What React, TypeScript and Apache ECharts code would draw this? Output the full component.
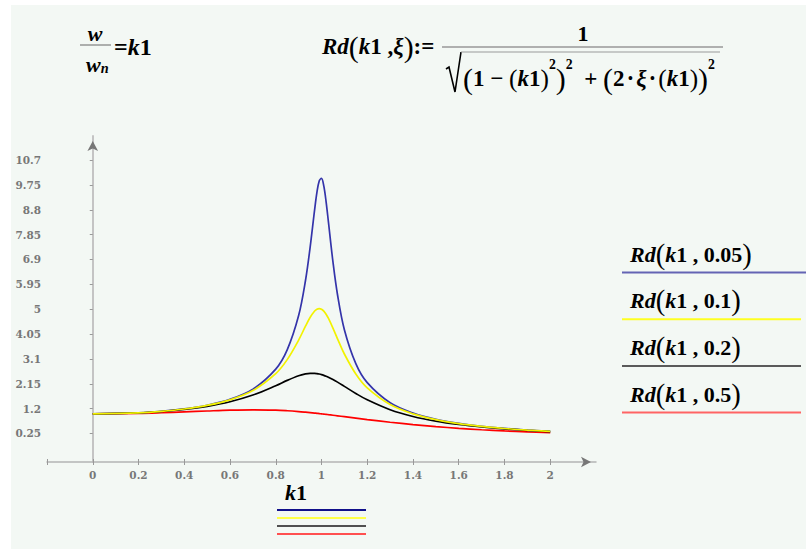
import React, { useEffect, useRef } from 'react';
import * as echarts from 'echarts';

// frequency ratio k1 = w / wn
const k1 = [0, 0.2, 0.3, 0.4, 0.5, 0.6, 0.7, 0.8, 0.85, 0.9, 0.93, 0.95, 0.97, 0.98, 0.99, 1.0, 1.01, 1.02, 1.03, 1.05, 1.07, 1.1, 1.15, 1.2, 1.3, 1.4, 1.5, 1.6, 1.7, 1.8, 1.9, 2.0];

// Rd(k1, ξ) for each damping ratio
const rd005 = [1, 1.041, 1.098, 1.189, 1.33, 1.556, 1.943, 2.712, 3.446, 4.757, 6.097, 7.346, 8.804, 9.461, 9.903, 10.0, 9.711, 9.115, 8.357, 6.815, 5.552, 4.218, 2.921, 2.193, 1.424, 1.031, 0.794, 0.638, 0.527, 0.445, 0.382, 0.333];
const rd01 = [1, 1.041, 1.097, 1.185, 1.322, 1.536, 1.891, 2.538, 3.073, 3.821, 4.35, 4.683, 4.931, 5.001, 5.025, 5.0, 4.926, 4.809, 4.655, 4.279, 3.869, 3.288, 2.525, 1.995, 1.356, 1.0, 0.778, 0.628, 0.521, 0.441, 0.379, 0.33];
const rd02 = [1, 1.038, 1.09, 1.17, 1.288, 1.463, 1.719, 2.076, 2.279, 2.457, 2.527, 2.549, 2.548, 2.538, 2.522, 2.5, 2.472, 2.439, 2.401, 2.313, 2.213, 2.051, 1.78, 1.536, 1.157, 0.9, 0.721, 0.593, 0.498, 0.425, 0.368, 0.322];
const rd05 = [1, 1.02, 1.044, 1.075, 1.109, 1.14, 1.155, 1.14, 1.118, 1.087, 1.064, 1.047, 1.029, 1.02, 1.01, 1.0, 0.99, 0.98, 0.969, 0.948, 0.926, 0.893, 0.837, 0.782, 0.68, 0.589, 0.512, 0.448, 0.393, 0.348, 0.31, 0.277];

const zetaLabels = ['0.05', '0.1', '0.2', '0.5'];

// axis tick values
const xTicks = [-0.2, 0, 0.2, 0.4, 0.6, 0.8, 1, 1.2, 1.4, 1.6, 1.8, 2];
const xLabels = [0, 0.2, 0.4, 0.6, 0.8, 1, 1.2, 1.4, 1.6, 1.8, 2];
const yLabels = [0.25, 1.2, 2.15, 3.1, 4.05, 5, 5.95, 6.9, 7.85, 8.8, 9.75, 10.7];

const SERIF = "'Liberation Serif', serif";
const TICK_FONT = "'DejaVu Serif', serif";
const curveColors = ['#3434aa', '#f2f200', '#000000', '#ff0000'];
const rightLegendColors = ['#6464b4', '#ffff20', '#5a5a5a', '#ff6464'];
const bottomLegendColors = ['#10108a', '#ffff48', '#505050', '#ff5050'];

const fmt = (v: number) => String(Math.round(v * 100) / 100);

const mathRich = (size: number) => ({
  v: { fontFamily: SERIF, fontStyle: 'italic', fontWeight: 'bold', fontSize: size, fill: '#000' },
  n: { fontFamily: SERIF, fontWeight: 'bold', fontSize: size, fill: '#000' },
  p: { fontFamily: SERIF, fontWeight: 'normal', fontSize: size * 1.3, fill: '#000', lineHeight: size * 1.8 },
  p2: { fontFamily: SERIF, fontWeight: 'normal', fontSize: size * 1.1, fill: '#000' },
  d: { fontFamily: SERIF, fontWeight: 'bold', fontSize: size * 0.6, fill: '#000' },
  s1: { fontFamily: SERIF, fontWeight: 'bold', fontSize: size * 0.6, fill: '#000', verticalAlign: 'top', lineHeight: size * 1.2 },
  s2: { fontFamily: SERIF, fontWeight: 'bold', fontSize: size * 0.6, fill: '#000', verticalAlign: 'top', lineHeight: size * 0.6 },
  sub: { fontFamily: SERIF, fontStyle: 'italic', fontWeight: 'bold', fontSize: size * 0.65, fill: '#000', verticalAlign: 'bottom', lineHeight: size * 0.5 },
  eq: { fontFamily: SERIF, fontWeight: 'bold', fontSize: size, fill: '#000' },
});

export default function App() {
  const ref = useRef<HTMLDivElement>(null);

  useEffect(() => {
    if (!ref.current) return;
    const chart = echarts.init(ref.current, undefined, { renderer: 'svg' });

    const seriesValues = [rd005, rd01, rd02, rd05];
    const series = seriesValues.map((vals, i) => ({
      type: 'line',
      name: 'Rd(k1, ' + zetaLabels[i] + ')',
      data: k1.map((k, j) => [k, vals[j]]),
      showSymbol: false,
      smooth: 0.35,
      lineStyle: { color: curveColors[i], width: 1.7 },
      z: [3, 5, 4, 2][i],
      silent: true,
    }));

    const labelStyle = { fontFamily: TICK_FONT, fontWeight: 'bold', fontSize: 10.5, color: '#777' };
    const gridHeight = 326;

    const rightLegend: any[] = [];
    zetaLabels.forEach((z, i) => {
      const cy = 254 + i * 46.7;
      rightLegend.push({
        type: 'text',
        x: 630,
        y: cy,
        style: {
          text: '{v|Rd}{p|(}{v|k}{n|1 ,}{n| ' + z + '}{p|)}',
          align: 'left',
          verticalAlign: 'middle',
          rich: mathRich(22),
        },
      });
      rightLegend.push({
        type: 'line',
        shape: { x1: 622, y1: cy + 18.5, x2: i === 0 ? 806 : 801, y2: cy + 18.5 },
        style: { stroke: rightLegendColors[i], lineWidth: 2 },
      });
    });

    const bottomLegend: any[] = [
      {
        type: 'text',
        x: 296,
        y: 492,
        style: { text: '{v|k}{n|1}', align: 'center', verticalAlign: 'middle', rich: mathRich(22) },
      },
    ];
    bottomLegendColors.forEach((c, i) => {
      bottomLegend.push({
        type: 'line',
        shape: { x1: 277, y1: 510 + i * 8, x2: 366, y2: 510 + i * 8 },
        style: { stroke: c, lineWidth: 2 },
      });
    });

    const formulas: any[] = [
      // w / wn = k1
      { type: 'text', x: 95, y: 33, style: { text: '{v|w}', align: 'center', verticalAlign: 'middle', rich: mathRich(22) } },
      { type: 'line', shape: { x1: 80, y1: 45, x2: 111, y2: 45 }, style: { stroke: '#666', lineWidth: 1 } },
      { type: 'text', x: 86, y: 64, style: { text: '{v|w}{sub|n}', align: 'left', verticalAlign: 'middle', rich: mathRich(22) } },
      { type: 'text', x: 114, y: 47, style: { text: '{eq|=}{v|k}{n|1}', align: 'left', verticalAlign: 'middle', rich: mathRich(24) } },
      // Rd(k1, ξ) := 1 / sqrt(...)
      { type: 'text', x: 322, y: 46, style: { text: '{v|Rd}{p|(}{v|k}{n|1 ,}{v|ξ}{p|)}{n|:=}', align: 'left', verticalAlign: 'middle', rich: mathRich(23) } },
      { type: 'line', shape: { x1: 442, y1: 47, x2: 723, y2: 47 }, style: { stroke: '#999', lineWidth: 1.5 } },
      { type: 'text', x: 583, y: 33, style: { text: '{n|1}', align: 'center', verticalAlign: 'middle', rich: mathRich(22) } },
      { type: 'polyline', shape: { points: [[446, 69], [449, 67], [455, 92], [461, 52]] }, style: { stroke: '#000', lineWidth: 1.6, fill: null } },
      { type: 'line', shape: { x1: 461, y1: 52, x2: 720, y2: 52 }, style: { stroke: '#999', lineWidth: 1.2 } },
      {
        type: 'text',
        x: 463,
        y: 78,
        style: {
          text: '{p|(}{n|1 − }{p2|(}{v|k}{n|1}{p2|)}{s1|2}{p|)}{s2|2}{n|  + }{p|(}{n|2}{d| • }{v|ξ}{d| • }{p2|(}{v|k}{n|1}{p2|)}{p|)}{s2|2}',
          align: 'left',
          verticalAlign: 'middle',
          rich: mathRich(23),
        },
      },
    ];

    chart.setOption({
      animation: false,
      backgroundColor: 'transparent',
      grid: { left: 47, top: 136, width: 549, height: gridHeight, containLabel: false },
      xAxis: [
        {
          type: 'value',
          min: -0.2,
          max: 2.2,
          position: 'bottom',
          axisLine: { onZero: false, lineStyle: { color: '#b4b4b4', width: 1.5 } },
          axisTick: { show: true, customValues: xTicks, length: 3, lineStyle: { color: '#999', width: 1 } },
          axisLabel: { show: true, customValues: xLabels, formatter: (v: number) => fmt(v), margin: 7, ...labelStyle },
          splitLine: { show: false },
        },
        {
          type: 'value',
          min: -0.2,
          max: 2.2,
          position: 'top',
          offset: -gridHeight,
          axisLine: {
            show: true,
            onZero: false,
            symbol: ['none', 'arrow'],
            symbolSize: [8, 10],
            symbolOffset: [0, -5],
            lineStyle: { color: '#777', width: 0 },
          },
          axisTick: { show: true, customValues: xTicks, length: 3, lineStyle: { color: '#999', width: 1 } },
          axisLabel: { show: false },
          splitLine: { show: false },
        },
      ],
      yAxis: [
        {
          type: 'value',
          min: -0.84,
          max: 11.62,
          position: 'left',
          axisLine: { onZero: true, lineStyle: { color: '#c4c4c4', width: 2 } },
          axisTick: { show: true, customValues: yLabels, length: 3, lineStyle: { color: '#999', width: 1 } },
          axisLabel: { show: true, customValues: yLabels, formatter: (v: number) => fmt(v), margin: 6, ...labelStyle },
          splitLine: { show: false },
        },
        {
          type: 'value',
          min: -0.84,
          max: 11.62,
          position: 'left',
          axisLine: {
            show: true,
            onZero: true,
            symbol: ['none', 'arrow'],
            symbolSize: [8, 10],
            symbolOffset: [0, -5],
            lineStyle: { color: '#777', width: 0 },
          },
          axisTick: { show: false },
          axisLabel: { show: false },
          splitLine: { show: false },
        },
      ],
      series,
      graphic: [...formulas, ...rightLegend, ...bottomLegend],
    });

    return () => chart.dispose();
  }, []);

  return (
    <div style={{ position: 'fixed', left: 0, top: 0, width: 806, height: 549, background: '#ffffff' }}>
      <div style={{ position: 'absolute', left: 11, top: 5, right: 0, bottom: 0, background: '#f3f8f4' }} />
      <div ref={ref} style={{ position: 'absolute', left: 0, top: 0, width: 806, height: 549 }} />
    </div>
  );
}
